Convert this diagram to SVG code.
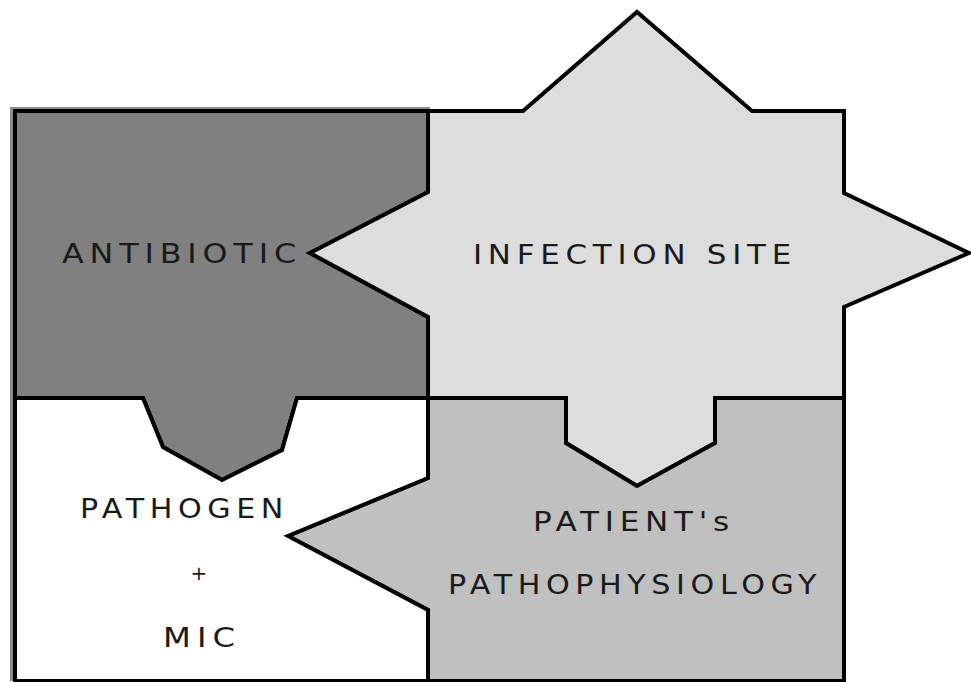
<svg xmlns="http://www.w3.org/2000/svg" width="971" height="682" viewBox="0 0 971 682">
<style>
.piece{stroke:#000;stroke-width:4;stroke-linejoin:miter}
.lbl{font-family:"DejaVu Sans","Liberation Sans",Arial,sans-serif;font-size:27px;fill:#1a1a1a;letter-spacing:5px}
</style>
<rect x="0" y="0" width="971" height="682" fill="#ffffff"/>
<path d="M11.5,681 V108.5 H430" fill="none" stroke="#8c8c8c" stroke-width="3"/>
<g id="antibiotic">
<polygon class="piece" fill="#808080" points="15,111 428,111 428,192 310,253 428,317 428,398 297,398 282,450 222,480 163,447 143,398 15,398"/>
<text class="lbl" x="62" y="263" textLength="240" lengthAdjust="spacingAndGlyphs">ANTIBIOTIC</text>
</g>
<g id="infection-site">
<polygon class="piece" fill="#dddddd" points="428,111 523,111 637,12 752,111 844,111 844,193 969,253 844,307 844,398 715,398 715,443 637,486 566,443 566,398 428,398 428,317 310,253 428,192"/>
<text class="lbl" x="473" y="264" textLength="324" lengthAdjust="spacingAndGlyphs">INFECTION SITE</text>
</g>
<g id="patient">
<polygon class="piece" fill="#c0c0c0" points="428,398 566,398 566,443 637,486 715,443 715,398 844,398 844,681 428,681 428,610 288,536 428,478"/>
<text class="lbl" x="533" y="531" textLength="202" lengthAdjust="spacingAndGlyphs">PATIENT's</text>
<text class="lbl" x="448" y="594" textLength="374" lengthAdjust="spacingAndGlyphs">PATHOPHYSIOLOGY</text>
</g>
<g id="pathogen">
<polygon class="piece" fill="#ffffff" points="15,398 143,398 163,447 222,480 282,450 297,398 428,398 428,478 288,536 428,610 428,681 15,681"/>
<text class="lbl" x="80" y="518" textLength="209" lengthAdjust="spacingAndGlyphs">PATHOGEN</text>
<text class="lbl" x="199" y="580" text-anchor="middle" style="font-size:20px;letter-spacing:0">+</text>
<text class="lbl" x="163" y="647" textLength="78" lengthAdjust="spacingAndGlyphs">MIC</text>
</g>
</svg>
